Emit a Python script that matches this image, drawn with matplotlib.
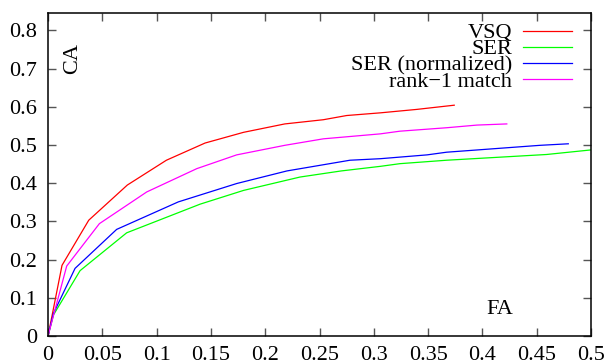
import matplotlib
matplotlib.use("Agg")
import matplotlib.pyplot as plt

plt.rcParams["font.family"] = ["Liberation Serif", "DejaVu Serif"]

# VSQ
vsq_fa = [0, 0.0129, 0.0375, 0.073, 0.109, 0.1446, 0.18, 0.218, 0.2535, 0.275, 0.306, 0.3395, 0.374]
vsq_ca = [0, 0.185, 0.303, 0.395, 0.46, 0.505, 0.533, 0.555, 0.566, 0.577, 0.584, 0.593, 0.604]

# SER
ser_fa = [0, 0.005, 0.0295, 0.0724, 0.14, 0.18, 0.232, 0.27, 0.306, 0.324, 0.367, 0.459, 0.5]
ser_ca = [0, 0.055, 0.171, 0.27, 0.345, 0.381, 0.416, 0.432, 0.444, 0.451, 0.46, 0.475, 0.487]

# SER (normalized)
sern_fa = [0, 0.005, 0.0249, 0.0632, 0.12, 0.1737, 0.22, 0.278, 0.306, 0.349, 0.367, 0.453, 0.479]
sern_ca = [0, 0.059, 0.177, 0.279, 0.351, 0.399, 0.432, 0.46, 0.464, 0.474, 0.481, 0.499, 0.503]

# rank-1 match
rank1_fa = [0, 0.0172, 0.0473, 0.0909, 0.137, 0.1737, 0.218, 0.2535, 0.306, 0.324, 0.367, 0.395, 0.4224]
rank1_ca = [0, 0.183, 0.294, 0.377, 0.438, 0.474, 0.499, 0.516, 0.529, 0.536, 0.545, 0.552, 0.555]

x_ticks = [0, 0.05, 0.1, 0.15, 0.2, 0.25, 0.3, 0.35, 0.4, 0.45, 0.5]
x_labels = ["0", "0.05", "0.1", "0.15", "0.2", "0.25", "0.3", "0.35", "0.4", "0.45", "0.5"]
y_ticks = [0, 0.1, 0.2, 0.3, 0.4, 0.5, 0.6, 0.7, 0.8]
y_labels = ["0", "0.1", "0.2", "0.3", "0.4", "0.5", "0.6", "0.7", "0.8"]

fs = 16

fig = plt.figure(figsize=(6.1, 3.64), dpi=100)
ax = fig.add_axes([0.0787, 0.0769, 0.8903, 0.8871])

lw = 0.9
ax.plot(vsq_fa, vsq_ca, color="#ff0000", lw=lw, label="VSQ")
ax.plot(ser_fa, ser_ca, color="#00ff00", lw=lw, label="SER")
ax.plot(sern_fa, sern_ca, color="#0000ff", lw=lw, label="SER (normalized)")
ax.plot(rank1_fa, rank1_ca, color="#ff00ff", lw=lw, label="rank\u22121 match")

ax.set_xlim(0, 0.5)
ax.set_ylim(0, 0.845)
ax.set_xticks(x_ticks)
ax.set_xticklabels(x_labels)
ax.set_yticks(y_ticks)
ax.set_yticklabels(y_labels)
ax.tick_params(direction="in", length=6, width=1, color="#555555",
               top=True, right=True, labelsize=fs)
ax.tick_params(axis="y", pad=8)
ax.tick_params(axis="x", pad=7)
for s in ax.spines.values():
    s.set_linewidth(1.1)

ax.text(0.023, 0.726, "CA", rotation=90, fontsize=fs, ha="center", va="center")
ax.text(0.416, 0.07, "FA", fontsize=fs, ha="center", va="center")

leg = ax.legend(loc="upper right", bbox_to_anchor=(0.965, 0.97), frameon=False,
                markerfirst=False, fontsize=fs, labelspacing=-0.2,
                handlelength=2.2, handletextpad=0.5, borderpad=0, borderaxespad=0)
for t in leg.get_texts():
    t.set_ha("right")

fig.savefig("out.png", dpi=100)
